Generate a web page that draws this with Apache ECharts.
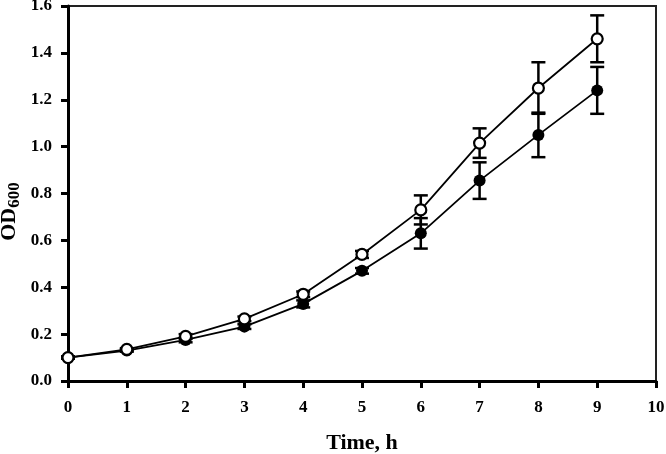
<!DOCTYPE html>
<html>
<head>
<meta charset="utf-8">
<script src="https://cdn.jsdelivr.net/npm/echarts@6/dist/echarts.min.js"></script>
<style>
  html, body { margin: 0; padding: 0; background: #fff; }
  #chart { width: 666px; height: 454px; }
</style>
</head>
<body>
<div id="chart"></div>
<script>
// time points, h
const hours = [0, 1, 2, 3, 4, 5, 6, 7, 8, 9];
// open circles
const openOD = [0.10, 0.135, 0.19, 0.265, 0.37, 0.54, 0.73, 1.015, 1.25, 1.46];
const openErr = [0.005, 0.005, 0.01, 0.01, 0.012, 0.015, 0.062, 0.063, 0.11, 0.10];
// filled circles
const filledOD = [0.10, 0.13, 0.175, 0.232, 0.329, 0.47, 0.63, 0.855, 1.05, 1.24];
const filledErr = [0.005, 0.005, 0.01, 0.01, 0.015, 0.012, 0.065, 0.078, 0.095, 0.10];

const serif = '"Liberation Serif", "Times New Roman", serif';

const chart = echarts.init(document.getElementById('chart'));

function errorSeries(vals, errs) {
  return {
    type: 'custom',
    z: 1,
    data: hours.map((h, i) => [h, vals[i] - errs[i], vals[i] + errs[i]]),
    renderItem: function (params, api) {
      const lo = api.coord([api.value(0), api.value(1)]);
      const hi = api.coord([api.value(0), api.value(2)]);
      const w = 7;
      const style = { stroke: '#000', lineWidth: 2.5 };
      return {
        type: 'group',
        children: [
          { type: 'line', shape: { x1: lo[0], y1: lo[1], x2: hi[0], y2: hi[1] }, style },
          { type: 'line', shape: { x1: hi[0] - w, y1: hi[1], x2: hi[0] + w, y2: hi[1] }, style },
          { type: 'line', shape: { x1: lo[0] - w, y1: lo[1], x2: lo[0] + w, y2: lo[1] }, style }
        ]
      };
    }
  };
}

const option = {
  animation: false,
  grid: {
    left: 68, right: 10, top: 6, bottom: 73,
    outerBoundsMode: 'none',
    show: true, borderColor: '#222', borderWidth: 2, backgroundColor: 'transparent'
  },
  xAxis: {
    type: 'value', min: 0, max: 10, interval: 1,
    name: 'Time, h', nameLocation: 'middle', nameGap: 51,
    nameTextStyle: { fontFamily: serif, fontWeight: 'bold', fontSize: 22, color: '#000' },
    axisLine: { lineStyle: { color: '#000', width: 3 } },
    axisTick: { length: 7, lineStyle: { color: '#000', width: 3 } },
    axisLabel: { fontFamily: serif, fontWeight: 'bold', fontSize: 17, color: '#000', margin: 18 },
    splitLine: { show: false }
  },
  yAxis: {
    type: 'value', min: 0, max: 1.6, interval: 0.2,
    name: '{a|OD}{b|600}', nameLocation: 'middle', nameGap: 45, nameRotate: 90,
    nameMoveOverlap: false,
    nameTextStyle: {
      padding: [0, 36, 0, 0],
      rich: {
        a: { fontFamily: serif, fontWeight: 'bold', fontSize: 22, color: '#000', lineHeight: 28, verticalAlign: 'middle' },
        b: { fontFamily: serif, fontWeight: 'bold', fontSize: 17, color: '#000', lineHeight: 14, verticalAlign: 'bottom' }
      }
    },
    axisLine: { lineStyle: { color: '#000', width: 3 } },
    axisTick: { length: 7, lineStyle: { color: '#000', width: 3 } },
    axisLabel: {
      fontFamily: serif, fontWeight: 'bold', fontSize: 17, color: '#000', margin: 16,
      formatter: v => v.toFixed(1)
    },
    splitLine: { show: false }
  },
  series: [
    errorSeries(openOD, openErr),
    errorSeries(filledOD, filledErr),
    {
      type: 'line', z: 3,
      data: hours.map((h, i) => [h, filledOD[i]]),
      symbol: 'circle', symbolSize: 12,
      lineStyle: { color: '#000', width: 1.8 },
      itemStyle: { color: '#000', borderColor: '#000', borderWidth: 0 }
    },
    {
      type: 'line', z: 4,
      data: hours.map((h, i) => [h, openOD[i]]),
      symbol: 'circle', symbolSize: 11,
      lineStyle: { color: '#000', width: 1.8 },
      itemStyle: { color: '#fff', borderColor: '#000', borderWidth: 2.2 }
    }
  ]
};

chart.setOption(option);
</script>
</body>
</html>
